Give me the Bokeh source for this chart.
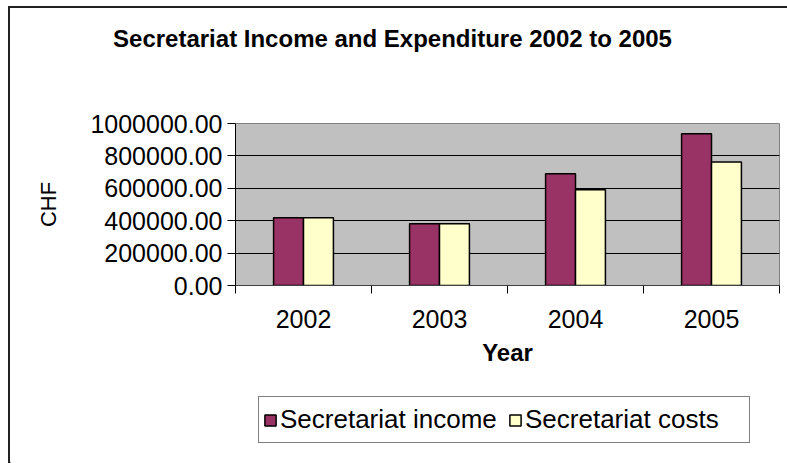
from bokeh.plotting import figure
from bokeh.layouts import column
from bokeh.models import (FixedTicker, Legend, LegendItem, Label,
                          Range1d, NumeralTickFormatter, ColumnDataSource)
from bokeh.embed import file_html
from bokeh.resources import INLINE

years = ["2002", "2003", "2004", "2005"]
income = [418000, 381000, 690000, 937000]
costs = [418000, 381000, 591000, 762000]
series_names = ["Secretariat income", "Secretariat costs"]
series_colors = ["#993366", "#FFFFCC"]
y_ticks = [0, 200000, 400000, 600000, 800000, 1000000]
title_text = "Secretariat Income and Expenditure 2002 to 2005"

FONT = "Liberation Sans"
W = 777
idx = list(range(len(years)))
src = ColumnDataSource(dict(
    x_inc=[i + 0.5 - 0.11 for i in idx],
    x_cost=[i + 0.5 + 0.11 for i in idx],
    income=income, costs=costs))


def blank_fig(h, x_range=(0, 1), y_range=(0, 1)):
    f = figure(width=W, height=h, output_backend="svg", toolbar_location=None,
               title=None, x_axis_location=None, y_axis_location=None,
               x_range=Range1d(*x_range), y_range=Range1d(*y_range),
               min_border=0, min_border_left=0, min_border_right=0,
               min_border_top=0, min_border_bottom=0, frame_align=False)
    f.grid.visible = False
    f.outline_line_color = None
    f.background_fill_color = "white"
    f.border_fill_color = "white"
    return f


# ---- title strip ----
pt = blank_fig(60)
pt.add_layout(Label(x=382, y=30, x_units="screen", y_units="screen", text=title_text,
                    text_align="center", text_baseline="middle", text_font=FONT,
                    text_font_size="24px", text_font_style="bold", text_color="black"))

# ---- main chart ----
p = figure(width=W, height=312, output_backend="svg", toolbar_location=None,
           title=None, frame_align=False,
           x_range=Range1d(0, len(years)), y_range=Range1d(0, 1000000),
           min_border_left=225, min_border_right=8, min_border_top=55,
           min_border_bottom=95)

p.background_fill_color = "#C0C0C0"
p.border_fill_color = "white"
p.outline_line_color = "#808080"
p.outline_line_width = 1

p.vbar(x="x_inc", top="income", width=0.22, source=src,
       fill_color=series_colors[0], line_color="black", line_width=1.5)
p.vbar(x="x_cost", top="costs", width=0.22, source=src,
       fill_color=series_colors[1], line_color="black", line_width=1.5)

p.xgrid.visible = False
p.ygrid.ticker = FixedTicker(ticks=y_ticks)
p.ygrid.grid_line_color = "black"
p.ygrid.grid_line_width = 1

ya = p.yaxis[0]
ya.ticker = FixedTicker(ticks=y_ticks)
ya.formatter = NumeralTickFormatter(format="0.00")
ya.major_tick_out = 8
ya.major_tick_in = 0
ya.minor_tick_out = 0
ya.minor_tick_in = 0
ya.axis_line_color = "black"
ya.major_tick_line_color = "black"
ya.major_label_text_font = FONT
ya.major_label_text_font_size = "25px"
ya.major_label_text_color = "black"
ya.major_label_standoff = 5
ya.axis_label = "CHF"
ya.axis_label_text_font = FONT
ya.axis_label_text_font_size = "22px"
ya.axis_label_text_font_style = "normal"
ya.axis_label_text_color = "black"
ya.axis_label_standoff = 26

xa = p.xaxis[0]
xa.ticker = FixedTicker(ticks=[i + 0.5 for i in idx], minor_ticks=list(range(len(years) + 1)))
xa.major_label_overrides = {i + 0.5: y for i, y in zip(idx, years)}
xa.major_tick_out = 0
xa.major_tick_in = 0
xa.minor_tick_out = 8
xa.minor_tick_in = 0
xa.minor_tick_line_color = "black"
xa.axis_line_color = "#404040"
xa.major_label_text_font = FONT
xa.major_label_text_font_size = "25px"
xa.major_label_text_color = "black"
xa.major_label_standoff = 16
xa.axis_label = "Year"
xa.axis_label_text_font = FONT
xa.axis_label_text_font_size = "24px"
xa.axis_label_text_font_style = "bold"
xa.axis_label_text_color = "black"
xa.axis_label_standoff = 8

# ---- legend strip (its ranges lie away from the data, so only the legend shows) ----
pl = blank_fig(83, x_range=(100, 104), y_range=(2000000, 3000000))
items = []
for name, col, field in zip(series_names, series_colors, ["income", "costs"]):
    xf = "x_inc" if field == "income" else "x_cost"
    r = pl.vbar(x=xf, top=field, width=0.22, source=src,
                fill_color=col, line_color="black", line_width=1.5)
    items.append(LegendItem(label=name, renderers=[r]))
legend = Legend(items=items, orientation="horizontal", location=(248, 20),
                border_line_color="black", border_line_width=1,
                background_fill_color="white", background_fill_alpha=1,
                label_text_font=FONT, label_text_font_size="26px",
                label_text_color="black",
                glyph_width=14, glyph_height=14, label_standoff=3,
                spacing=8, padding=4, label_height=37, label_width=220, margin=0)
pl.add_layout(legend)

page = column(pt, p, pl, spacing=0,
              styles={"margin-left": "8px", "margin-top": "6px",
                      "border-left": "2px solid #222", "border-top": "2px solid #222"})

open("out.html", "w").write(file_html(page, INLINE))
